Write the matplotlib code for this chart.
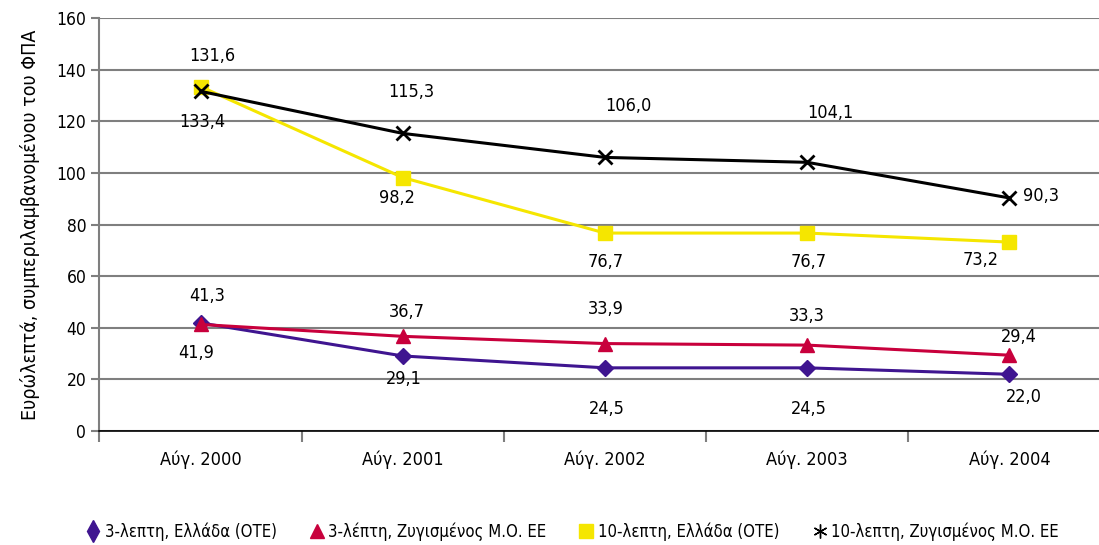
import matplotlib
matplotlib.use("Agg")
import matplotlib.pyplot as plt
from matplotlib.ticker import FixedLocator, MultipleLocator

plt.rcParams["font.family"] = ["DejaVu Sans"]
plt.rcParams["font.stretch"] = "condensed"

categories = ["Αύγ. 2000", "Αύγ. 2001", "Αύγ. 2002", "Αύγ. 2003", "Αύγ. 2004"]
ote_3 = [41.9, 29.1, 24.5, 24.5, 22.0]
eu_3 = [41.3, 36.7, 33.9, 33.3, 29.4]
ote_10 = [133.4, 98.2, 76.7, 76.7, 73.2]
eu_10 = [131.6, 115.3, 106.0, 104.1, 90.3]

names = ["3-λεπτη, Ελλάδα (ΟΤΕ)", "3-λέπτη, Ζυγισμένος Μ.Ο. ΕΕ",
         "10-λεπτη, Ελλάδα (ΟΤΕ)", "10-λεπτη, Ζυγισμένος Μ.Ο. ΕΕ"]

# label offsets in pixels (dx, dy), dy up
offs = {
    0: [(-4, -30), (1, -23), (2, -41), (2, -41), (14, -23)],
    1: [(7, 28), (4, 24), (1, 35), (0, 29), (9, 18)],
    2: [(2, -35), (-6, -20), (1, -29), (1, -29), (-29, -18)],
    3: [(12, 35), (9, 41), (23, 51), (23, 49), (32, 2)],
}

fig = plt.figure(figsize=(10.99, 5.45), dpi=100)
ax = fig.add_axes([0.0905, 0.209, 0.92, 0.758])
x = list(range(len(categories)))

series = [
    (ote_3, dict(color="#3f1590", marker="D", ms=8, lw=2.2)),
    (eu_3, dict(color="#c8003c", marker="^", ms=10, lw=2.2)),
    (ote_10, dict(color="#f5e600", marker="s", ms=10, lw=2.2)),
    (eu_10, dict(color="black", marker="x", ms=10, mew=2, lw=2.2)),
]
for i, (vals, st) in enumerate(series):
    ax.plot(x, vals, label=names[i], zorder=3 + i, **st)
    for j, v in enumerate(vals):
        dx, dy = offs[i][j]
        ax.annotate(f"{v:.1f}".replace(".", ","), (j, v), xytext=(dx, dy),
                    textcoords="offset pixels", ha="center", va="center",
                    fontsize=13, zorder=10)

ax.set_xlim(-0.5, 4.5)
ax.set_ylim(0, 160)
ax.yaxis.set_major_locator(MultipleLocator(20))
ax.grid(axis="y", color="#7f7f7f", lw=1.5, zorder=0)
ax.set_xticks(x)
ax.set_xticklabels(categories, fontsize=13)
ax.xaxis.set_minor_locator(FixedLocator([k - 0.5 for k in range(6)]))
ax.tick_params(axis="x", which="major", length=0, pad=14)
ax.tick_params(axis="x", which="minor", length=8, width=1.5, color="#7f7f7f")
ax.tick_params(axis="y", length=6, width=1.5, color="#7f7f7f", labelsize=12.5)
for s in ["top", "right"]:
    ax.spines[s].set_visible(False)
ax.spines["left"].set_color("#7f7f7f")
ax.spines["left"].set_linewidth(1.5)
ax.spines["bottom"].set_color("black")
ax.spines["bottom"].set_linewidth(1.2)
ax.set_ylabel("Ευρώλεπτά, συμπεριλαμβανομένου του ΦΠΑ", fontsize=14, labelpad=12)

leg_markers = ["d", "^", "s", (6, 2, 0)]
leg_sizes = [11, 10, 10, 10]
leg_handles = []
for (vals, st), n, m, s in zip(series, names, leg_markers, leg_sizes):
    h, = ax.plot([], [], ls="none", label=n, marker=m, color=st["color"], ms=s)
    leg_handles.append(h)
fig.legend(handles=leg_handles, loc="center", bbox_to_anchor=(0.521, 0.024), ncol=4,
           frameon=False, fontsize=12, handlelength=0.8, handletextpad=0.3,
           columnspacing=2.0)

fig.savefig("out.png", dpi=100)
